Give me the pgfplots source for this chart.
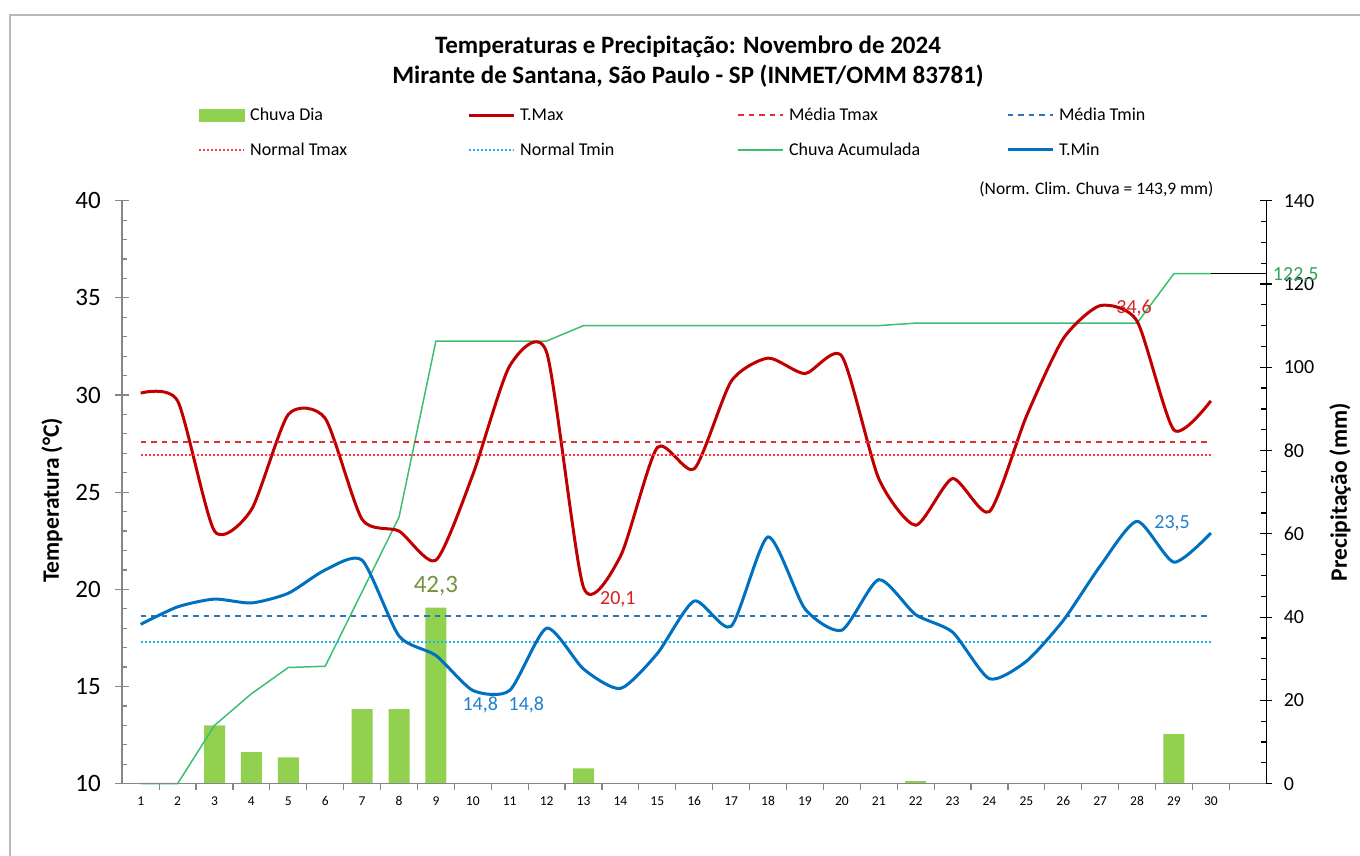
\documentclass[border=0pt]{standalone}
\usepackage{fontspec}
\setmainfont{Carlito}
\usepackage{pgfplots}
\usepackage{pgfplotstable}
\pgfplotsset{compat=1.18}
\definecolor{tmax}{HTML}{C00000}
\definecolor{tmin}{HTML}{0070C0}
\definecolor{ntmax}{HTML}{FF3B3B}
\definecolor{ntmin}{HTML}{1EB4F0}
\definecolor{barc}{HTML}{92D050}
\definecolor{acum}{HTML}{3CBF6E}
\definecolor{oliv}{HTML}{76923C}
\definecolor{lblue}{HTML}{1F7FD0}
\definecolor{lred}{HTML}{D82020}
\definecolor{axgray}{HTML}{868686}

\pgfplotstableread{
d tmax tmin
1 30.1 18.2
2 29.7 19.1
3 23.0 19.5
4 24.1 19.3
5 29.0 19.8
6 28.8 21.0
7 23.6 21.5
8 23.0 17.6
9 21.5 16.6
10 25.9 14.8
11 31.5 14.8
12 32.2 18.0
13 20.1 15.9
14 21.7 14.9
15 27.3 16.7
16 26.2 19.4
17 30.7 18.1
18 31.9 22.7
19 31.1 19.0
20 32.0 17.9
21 25.7 20.5
22 23.3 18.7
23 25.7 17.8
24 24.0 15.4
25 28.9 16.3
26 32.9 18.4
27 34.6 21.2
28 33.8 23.5
29 28.2 21.4
30 29.7 22.9
}\temps

\pgfplotstableread{
d acum
1 0
2 0
3 14.0
4 21.6
5 27.9
6 28.2
7 46.1
8 64.0
9 106.3
10 106.3
11 106.3
12 106.3
13 110.0
14 110.0
15 110.0
16 110.0
17 110.0
18 110.0
19 110.0
20 110.0
21 110.0
22 110.6
23 110.6
24 110.6
25 110.6
26 110.6
27 110.6
28 110.6
29 122.5
30 122.5
}\acumtab

\newcommand{\lt}[1]{\makebox[222pt][l]{\hspace{5pt}#1}}
\pgfplotsset{base/.style={scale only axis, width=1144pt, height=583pt,
  at={(122.25pt,72.3pt)}, anchor=south west, xmin=0.5, xmax=31.5,
  /pgf/number format/assume math mode=true}}

\begin{document}
\begin{tikzpicture}
\path[use as bounding box] (0pt,0pt) rectangle (1360pt,856pt);
\draw[gray!55, line width=1.2pt] (10pt,-5pt) -- (10pt,841pt) -- (1370pt,841pt);

% precipitation axis (right)
\begin{axis}[base, ymin=0, ymax=140, axis x line=none, axis y line*=right,
  ytick={0,20,...,140}, tick align=center, major tick length=12pt,
  y axis line style={black, line width=1.4pt}, tick style={black, line width=1.2pt},
  yticklabel style={font=\fontsize{20}{20}\selectfont, anchor=west, xshift=8pt},
  ylabel={Precipitação (mm)},
  ylabel style={at={(1.0645,0.5)}, anchor=center, font=\fontsize{23.5}{23.5}\selectfont\bfseries},
  clip=false]
\addplot[ybar, bar width=21pt, fill=barc, draw=none] coordinates {
(3,14.0) (4,7.6) (5,6.3) (7,17.9) (8,17.9) (9,42.3) (13,3.7) (22,0.6) (29,11.9)};
\addplot[draw={rgb,255:red,60;green,191;blue,110}, line width=1.5pt] table[x=d, y=acum] {\acumtab};
\addplot[draw=black, line width=1.3pt] coordinates {(30,122.5) (31.5,122.5)};
\node[oliv, font=\fontsize{25}{25}\selectfont] at (axis cs:9,47.5) {42,3};
\node[acum!85!black, font=\fontsize{20}{20}\selectfont] at (axis cs:32.3,122.1) {122,5};
\end{axis}

% minor ticks right axis
\begin{axis}[base, ymin=0, ymax=140, axis x line=none, axis y line*=right,
  ytick={5,10,15,25,30,35,45,50,55,65,70,75,85,90,95,105,110,115,125,130,135},
  yticklabels={}, tick align=inside, major tick length=5pt,
  y axis line style={draw=none}, tick style={black, line width=1.2pt}]
\end{axis}

% minor ticks left axis
\begin{axis}[base, ymin=10, ymax=40, axis x line=none, axis y line*=left,
  ytick={11,12,13,14,16,17,18,19,21,22,23,24,26,27,28,29,31,32,33,34,36,37,38,39},
  yticklabels={}, tick align=inside, major tick length=5pt,
  y axis line style={draw=none}, tick style={axgray, line width=1.2pt}]
\end{axis}

% x axis
\begin{axis}[base, ymin=0, ymax=1, axis y line=none, axis x line*=bottom,
  xtick={1,...,30}, major tick length=0pt,
  minor xtick={1.5,2.5,...,30.5}, minor tick length=6pt, tick align=outside,
  x axis line style={axgray, line width=1.5pt}, tick style={axgray, line width=1.2pt},
  xticklabel style={font=\fontsize{13.5}{13.5}\selectfont, anchor=base, yshift=-22pt}]
\end{axis}

% temperature axis (left)
\begin{axis}[base, ymin=10, ymax=40, axis x line=none, axis y line*=left,
  ytick={10,15,...,40}, tick align=center, major tick length=14pt,
  y axis line style={axgray, line width=1.5pt}, tick style={axgray, line width=1.2pt},
  yticklabel style={font=\fontsize{25}{25}\selectfont, anchor=east, xshift=-11pt},
  ylabel={Temperatura (°C)},
  ylabel style={at={(-0.0614,0.486)}, anchor=center, font=\fontsize{23.5}{23.5}\selectfont\bfseries},
  clip=false,
  legend image code/.code={\draw[#1] (0pt,0pt) -- (45pt,0pt);},
  legend style={at={(0.0636,1.162)}, anchor=north west, draw=none, fill=none,
    font=\fontsize{18}{18}\selectfont, legend columns=4, column sep=0pt, row sep=20.5pt,
    nodes={inner sep=0pt}},
]
\addlegendimage{legend image code/.code={\fill[barc] (0pt,-6pt) rectangle (45pt,6pt);}}
\addlegendentry{\lt{Chuva Dia}}
\addplot[draw=tmax, line width=3pt, smooth, tension=0.4] table[x=d, y=tmax] {\temps};
\addlegendentry{\lt{T.Max}}
\addplot[draw={rgb,255:red,224;green,48;blue,48}, line width=1.9pt, dash pattern=on 5.5pt off 5pt] coordinates {(1,27.6) (30,27.6)};
\addlegendentry{\lt{Média Tmax}}
\addplot[draw={rgb,255:red,46;green,117;blue,182}, line width=1.9pt, dash pattern=on 5.5pt off 5pt] coordinates {(1,18.65) (30,18.65)};
\addlegendentry{\lt{Média Tmin}}
\addplot[draw=ntmax, line width=2pt, dash pattern=on 2pt off 2pt] coordinates {(1,26.9) (30,26.9)};
\addlegendentry{\lt{Normal Tmax}}
\addplot[draw=ntmin, line width=2pt, dash pattern=on 2pt off 2pt] coordinates {(1,17.3) (30,17.3)};
\addlegendentry{\lt{Normal Tmin}}
\addlegendimage{draw={rgb,255:red,60;green,191;blue,110}, line width=1.8pt}
\addlegendentry{\lt{Chuva Acumulada}}
\addplot[draw=tmin, line width=3pt, smooth, tension=0.4] table[x=d, y=tmin] {\temps};
\addlegendentry{\lt{T.Min}}
\node[lblue, font=\fontsize{20}{20}\selectfont] at (axis cs:10.2,14.05) {14,8};
\node[lblue, font=\fontsize{20}{20}\selectfont] at (axis cs:11.45,14.05) {14,8};
\node[lred, font=\fontsize{20}{20}\selectfont] at (axis cs:13.93,19.47) {20,1};
\node[lred, font=\fontsize{20}{20}\selectfont] at (axis cs:27.92,34.5) {34,6};
\node[lblue, font=\fontsize{20}{20}\selectfont] at (axis cs:28.95,23.4) {23,5};
\node[font=\fontsize{17.5}{17.5}\selectfont] at (axis cs:26.9,40.6) {(Norm. Clim. Chuva = 143,9 mm)};
\end{axis}

\node[font=\fontsize{25}{30}\selectfont\bfseries, align=center] at (688pt,794pt)
  {Temperaturas e Precipitação: Novembro de 2024\\Mirante de Santana, São Paulo - SP (INMET/OMM 83781)};
\end{tikzpicture}
\end{document}
